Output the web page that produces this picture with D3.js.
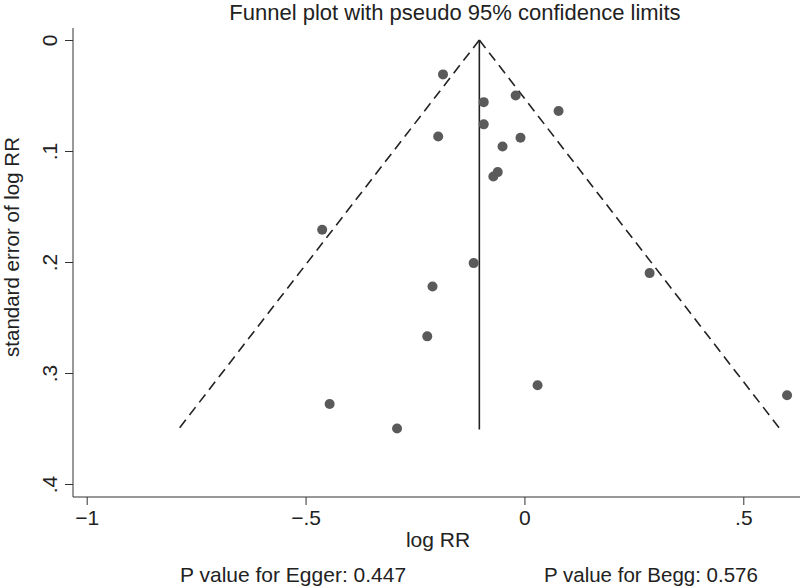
<!DOCTYPE html>
<html>
<head>
<meta charset="utf-8">
<script src="https://cdn.jsdelivr.net/npm/d3@7"></script>
<style>
  body { margin: 0; background: #fff; }
  text { font-family: "Liberation Sans", Arial, sans-serif; fill: #222; }
</style>
</head>
<body>
<div class="plot"></div>
<script>
// study estimates
const logRR = [-0.186, -0.020, -0.093, 0.078, -0.093, -0.197, -0.009, -0.050, -0.061, -0.071,
               -0.462, -0.116, 0.286, -0.210, -0.222, 0.030, 0.600, -0.445, -0.291];
const seLogRR = [0.031, 0.050, 0.056, 0.064, 0.076, 0.087, 0.088, 0.096, 0.119, 0.123,
                 0.171, 0.201, 0.210, 0.222, 0.267, 0.311, 0.320, 0.328, 0.350];
const pooled = -0.103;   // fixed effect estimate
const seMax = 0.351;     // bottom of the funnel
const xTicks = [-1, -0.5, 0, 0.5];
const xTickLabels = ["\u22121", "\u2212.5", "0", ".5"];
const yTicks = [0, 0.1, 0.2, 0.3, 0.4];
const yTickLabels = ["0", ".1", ".2", ".3", ".4"];

const W = 800, H = 588;
const box = {left: 73, right: 800, top: 28, bottom: 497};
const fs = "21px";

const svg = d3.select(".plot")
    .append("svg")
        .attr("width", W)
        .attr("height", H);

const x = d3.scaleLinear().domain([-1, 0.5]).range([86.7, 743.3]);
const y = d3.scaleLinear().domain([0, 0.4]).range([40, 484]);

// axes
const xAxis = d3.axisBottom(x)
    .tickValues(xTicks)
    .tickFormat((d, i) => xTickLabels[i])
    .tickSize(8)
    .tickPadding(5);
const gx = svg.append("g")
    .attr("transform", "translate(0," + box.bottom + ")")
    .call(xAxis);
gx.select(".domain").remove();
gx.append("line")
    .attr("x1", box.left).attr("x2", box.right)
    .attr("stroke", "#333");
gx.selectAll(".tick line").attr("stroke", "#333");
gx.selectAll("text")
    .style("font-size", fs)
    .attr("fill", "#222");

const yAxis = d3.axisLeft(y)
    .tickValues(yTicks)
    .tickFormat((d, i) => yTickLabels[i])
    .tickSize(8);
const gy = svg.append("g")
    .attr("transform", "translate(" + box.left + ",0)")
    .call(yAxis);
gy.select(".domain").remove();
gy.append("line")
    .attr("y1", box.top).attr("y2", box.bottom)
    .attr("stroke", "#333");
gy.selectAll(".tick line").attr("stroke", "#333");
gy.selectAll("text")
    .attr("x", null).attr("dy", null)
    .attr("transform", "translate(-16,0) rotate(-90)")
    .attr("text-anchor", "middle")
    .style("font-size", fs)
    .attr("fill", "#222");

// pseudo 95% confidence limits
const funnel = [
    [[pooled, 0], [pooled - 1.96 * seMax, seMax]],
    [[pooled, 0], [pooled + 1.96 * seMax, seMax]]
];
svg.selectAll(".ci")
    .data(funnel)
    .enter()
    .append("path")
        .attr("class", "ci")
        .attr("d", d3.line().x(d => x(d[0])).y(d => y(d[1])))
        .attr("fill", "none")
        .attr("stroke", "#222")
        .attr("stroke-width", 1.6)
        .attr("stroke-dasharray", "10,6");

// pooled estimate
svg.append("line")
    .attr("x1", x(pooled)).attr("x2", x(pooled))
    .attr("y1", y(0)).attr("y2", y(seMax))
    .attr("stroke", "#222")
    .attr("stroke-width", 1.6);

// studies
svg.selectAll("circle")
    .data(logRR.map((v, i) => [v, seLogRR[i]]))
    .enter()
    .append("circle")
        .attr("cx", d => x(d[0]))
        .attr("cy", d => y(d[1]))
        .attr("r", 5)
        .attr("fill", "#5a5a5a");

// titles
svg.append("text")
    .attr("x", 455).attr("y", 20)
    .attr("text-anchor", "middle")
    .style("font-size", "22px")
    .text("Funnel plot with pseudo 95% confidence limits");

svg.append("text")
    .attr("transform", "translate(19,247) rotate(-90)")
    .attr("text-anchor", "middle")
    .style("font-size", "20.5px")
    .text("standard error of log RR");

svg.append("text")
    .attr("x", 438).attr("y", 547)
    .attr("text-anchor", "middle")
    .style("font-size", fs)
    .text("log RR");

svg.append("text")
    .attr("x", 180).attr("y", 582)
    .style("font-size", fs)
    .text("P value for Egger: 0.447");

svg.append("text")
    .attr("x", 544).attr("y", 582)
    .style("font-size", "20.5px")
    .text("P value for Begg: 0.576");
</script>
</body>
</html>
